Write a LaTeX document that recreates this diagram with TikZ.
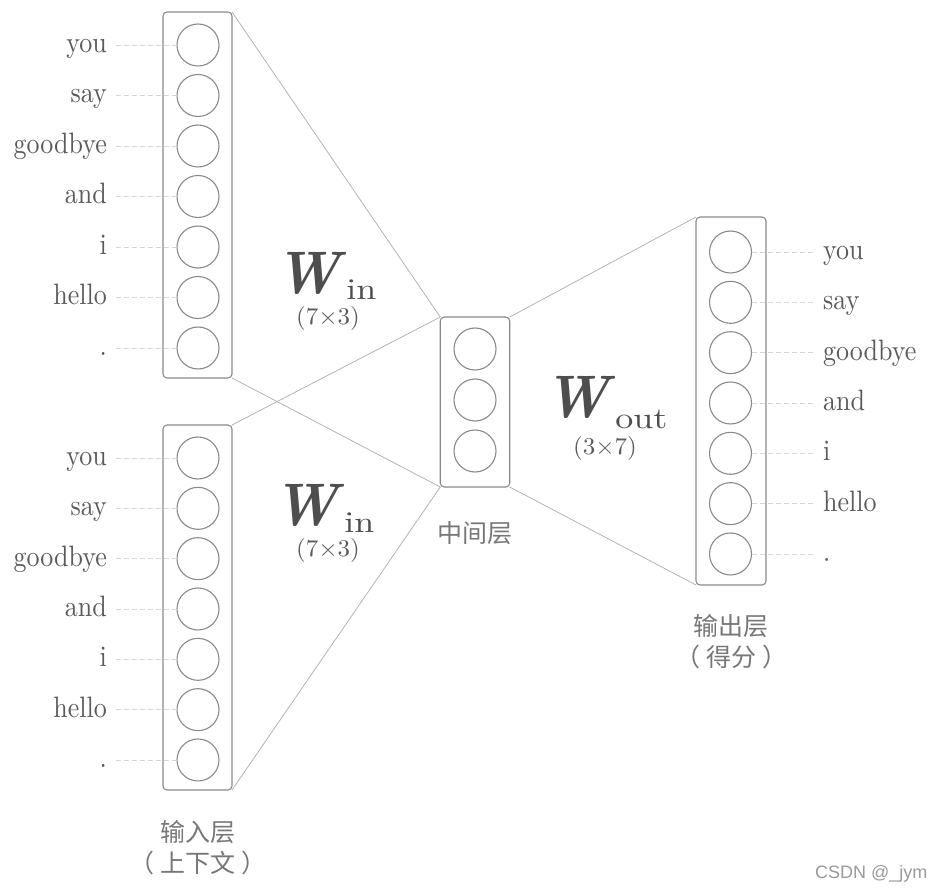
\documentclass[tikz,border=0pt]{standalone}
\usepackage{fontspec}
\usepackage{graphicx}
\newfontfamily\cjk{Noto Sans CJK SC}
\newfontfamily\wmfont{Liberation Sans}
\definecolor{boxc}{HTML}{8A8A8A}
\definecolor{circc}{HTML}{8A8A8A}
\definecolor{connc}{HTML}{B4B4B4}
\definecolor{dashc}{HTML}{D6D6D6}
\definecolor{textc}{HTML}{5A5A5A}
\definecolor{wc}{HTML}{4E4E4E}
\definecolor{cjkc}{HTML}{777777}
\definecolor{wmc}{HTML}{9A9A9A}
\newcommand\wlab[1]{\scalebox{2.6}[2.95]{\fontsize{10}{10}\selectfont #1}}
\newcommand\wsym[2]{{\fontsize{60}{60}\selectfont\scalebox{0.93}[1]{\textbf{\textit{W}}}}\kern0pt\raisebox{#2}{\scalebox{3.6}[3.0]{\fontsize{10}{10}\selectfont #1}}}
\newcommand\dimtxt[1]{\scalebox{2.5}[2.4]{\fontsize{10}{10}\selectfont #1}}
\begin{document}
\begin{tikzpicture}[x=1pt,y=-1pt,
  layer/.style={draw=boxc, line width=1.1pt, rounded corners=4pt, inner sep=0pt, outer sep=0pt, minimum width=69pt},
  unit/.style={circle, draw=circc, line width=1.1pt, minimum size=42pt, inner sep=0pt, outer sep=0pt},
  conn/.style={draw=connc, line width=0.8pt},
  dashl/.style={draw=dashc, line width=0.8pt, dash pattern=on 5pt off 3pt},
  word/.style={text=textc, inner sep=0pt},
  wlabel/.style={text=wc, inner sep=0pt},
  dims/.style={text=textc, inner sep=0pt},
  cjklab/.style={text=cjkc, inner sep=0pt, align=center, font=\cjk\fontsize{25}{31}\selectfont},
  wmark/.style={text=wmc, inner sep=0pt, font=\wmfont\fontsize{18}{18}\selectfont}]
\useasboundingbox[fill=white] (0,0) rectangle (940,890);

% layer boxes
\node[layer, minimum height=366pt] (in1) at (197.5,195) {};
\node[layer, minimum height=365pt] (in2) at (197.5,607.5) {};
\node[layer, minimum width=69.5pt, minimum height=170pt] (mid) at (475,402) {};
\node[layer, minimum width=70pt, minimum height=368pt] (out) at (731,401) {};

% connectors
\draw[conn] (in1.north east) -- (mid.north west);
\draw[conn] (in1.south east) -- (mid.south west);
\draw[conn] (in2.north east) -- (mid.north west);
\draw[conn] (in2.south east) -- (mid.south west);
\draw[conn] (mid.north east) -- (out.north west);
\draw[conn] (mid.south east) -- (out.south west);

% input layer 1
\foreach \w [count=\i] in {you,say,goodbye,and,i,hello,.} {
  \node[unit] (a\i) at (198,{45+(\i-1)*50.5}) {};
  \node[word, anchor=base east] (la\i) at (107,{52.5+(\i-1)*50.5}) {\wlab{\w}};
  \draw[dashl] ([xshift=9pt]la\i.east |- a\i.center) -- (a\i.west);
}
% input layer 2
\foreach \w [count=\i] in {you,say,goodbye,and,i,hello,.} {
  \node[unit] (b\i) at (198,{458+(\i-1)*50.33}) {};
  \node[word, anchor=base east] (lb\i) at (107,{465.5+(\i-1)*50.33}) {\wlab{\w}};
  \draw[dashl] ([xshift=9pt]lb\i.east |- b\i.center) -- (b\i.west);
}
% hidden layer
\foreach \i in {1,2,3} {
  \node[unit] (h\i) at (475,{349+(\i-1)*51}) {};
}
% output layer
\foreach \w [count=\i] in {you,say,goodbye,and,i,hello,.} {
  \node[unit] (o\i) at (730.5,{252+(\i-1)*50.33}) {};
  \node[word, anchor=base west] (lo\i) at (823,{259.5+(\i-1)*50.33}) {\wlab{\w}};
  \draw[dashl] (o\i.east) -- ([xshift=-10pt]lo\i.west |- o\i.center);
}

% weight labels
\node[wlabel, anchor=base west] (win1) at (275,294) {\wsym{in}{-6pt}};
\node[dims] (d1) at (328,319) {\dimtxt{(7\texttimes3)}};
\node[wlabel, anchor=base west] (win2) at (273,525) {\wsym{in}{-7pt}};
\node[dims] (d2) at (328,550) {\dimtxt{(7\texttimes3)}};
\node[wlabel, anchor=base west] (wout) at (544,418) {\wsym{out}{-10pt}};
\node[dims] (d3) at (605,448) {\dimtxt{(3\texttimes7)}};

% layer captions
\node[cjklab] (cmid) at (475,533) {中间层};
\node[cjklab] (cin) at (197.5,848) {输入层\\（\kern6pt 上下文\kern6pt ）};
\node[cjklab] (cout) at (731,642) {输出层\\（\kern6pt 得分\kern6pt ）};

% watermark
\node[wmark, anchor=base west] (wm) at (815,878) {CSDN @\_jym};
\end{tikzpicture}
\end{document}
